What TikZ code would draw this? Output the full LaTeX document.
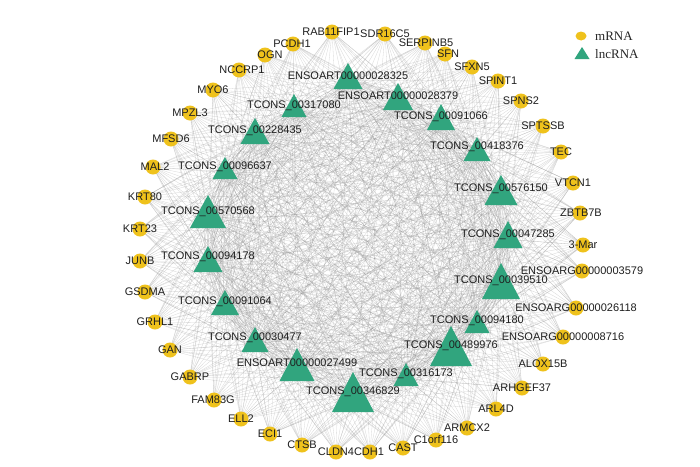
\documentclass[tikz,border=0pt]{standalone}
\usepackage{fontspec}
\setmainfont{Liberation Sans}
\newfontfamily\legfont{Liberation Serif}
\usetikzlibrary{shapes.geometric}
\definecolor{mrnacol}{HTML}{EFC21C}
\definecolor{lnccol}{HTML}{31A57E}
\definecolor{edgecol}{HTML}{8C8C8C}
\pgfdeclarelayer{bg}
\pgfsetlayers{bg,main}
\tikzset{
  mrna/.style={circle, fill=mrnacol, inner sep=0pt, outer sep=0pt, minimum size=15pt},
  lnc/.style={isosceles triangle, isosceles triangle stretches, shape border rotate=90,
    fill=lnccol, inner sep=0pt, outer sep=0pt, anchor=apex},
  lab/.style={font=\fontsize{11}{12}\selectfont, text=black!88, inner sep=0pt},
  link/.style={draw=edgecol, line width=0.3pt, opacity=0.35},
  legtext/.style={font=\legfont\fontsize{13}{14}\selectfont, text=black!85, anchor=west, inner sep=0pt},
}
\begin{document}
\begin{tikzpicture}[x=1pt,y=-1pt]
\useasboundingbox (0,0) rectangle (700,466);
% mRNA nodes
\foreach \n/\x/\y/\lx/\t in {
  m1/332/32/331/RAB11FIP1, m2/385/34/385/SDR16C5, m3/425/43/426/SERPINB5,
  m4/445/54/448/SFN, m5/472/67/472/SFXN5, m6/498/81/498/SPINT1,
  m7/521/101/521/SPNS2, m8/543/126/543/SPTSSB, m9/561/152/561/TEC,
  m10/573/183/573/VTCN1, m11/580/213/581/ZBTB7B, m12/583/245/583/3-Mar,
  m13/582/271/582/ENSOARG00000003579, m14/576/308/576/ENSOARG00000026118,
  m15/563/337/563/ENSOARG00000008716, m16/543/364/543/ALOX15B,
  m17/522/388/522/ARHGEF37, m18/496/409/496/ARL4D, m19/467/428/467/ARMCX2,
  m20/436/440/436/C1orf116, m21/403/448/403/CAST, m22/370/452/369/CDH1,
  m23/336/452/336/CLDN4, m24/302/445/302/CTSB, m25/270/434/270/ECI1,
  m26/241/419/241/ELL2, m27/214/400/213/FAM83G, m28/190/377/190/GABRP,
  m29/170/350/170/GAN, m30/155/322/155/GRHL1, m31/145/292/145/GSDMA,
  m32/140/261/140/JUNB, m33/140/229/140/KRT23, m34/145/197/145/KRT80,
  m35/153/167/155/MAL2, m36/171/139/171/MFSD6, m37/190/113/190/MPZL3,
  m38/213/90/213/MYO6, m39/239/70/242/NCCRP1, m40/265/55/270/OGN,
  m41/293/44/292/PCDH1}
{
  \node[mrna] (\n) at (\x,\y) {};
  \node[lab] (\n-l) at (\lx,\y) {\t};
}
% lncRNA nodes
\foreach \n/\x/\a/\b/\w/\ly/\t in {
  t1/348/63/89/29/76/ENSOART00000028325,
  t2/398/83/110/30/96/ENSOART00000028379,
  t3/441/104/130/28/117/TCONS\_00091066,
  t4/477/137/161/27/147/TCONS\_00418376,
  t5/501/175/205/33/189/TCONS\_00576150,
  t6/508/221/248/29/235/TCONS\_00047285,
  t7/501/263/299/38/281/TCONS\_00039510,
  t8/477/310/333/25/321/TCONS\_00094180,
  t9/451/326/366/42/346/TCONS\_00489976,
  t10/406/363/386/25/374/TCONS\_00316173,
  t11/353/372/412/42/392/TCONS\_00346829,
  t12/297/348/381/35/363/ENSOART00000027499,
  t13/255/327/352/27/338/TCONS\_00030477,
  t14/225/290/315/28/302/TCONS\_00091064,
  t15/208/246/272/29/257/TCONS\_00094178,
  t16/208/195/228/36/212/TCONS\_00570568,
  t17/225/157/179/25/167/TCONS\_00096637,
  t18/255/118/144/29/131/TCONS\_00228435,
  t19/294/94/117/25/106/TCONS\_00317080}
{
  \pgfmathsetmacro\h{\b-\a}
  \node[lnc, minimum width=\w pt, minimum height=\h pt] (\n) at (\x,\a) {};
  \node[lab] (\n-l) at (\x,\ly) {\t};
}
% legend
\node[ellipse, fill=mrnacol, inner sep=0pt, minimum width=11pt, minimum height=9pt] (legm) at (581,36) {};
\node[lnc, minimum width=15pt, minimum height=12pt] (legl) at (582,47) {};
\node[legtext] (legmt) at (595,36) {mRNA};
\node[legtext] (legltt) at (595,54) {lncRNA};
% edges
\begin{pgfonlayer}{bg}
  \fill[white] (0,0) rectangle (700,466);
  \foreach \i in {1,...,19} {
    \foreach \j in {1,...,41} {
      \draw[link] (t\i.center) -- (m\j.center);
    }
  }
  \foreach \i in {1,...,18} {
    \pgfmathtruncatemacro\k{\i+1}
    \foreach \j in {\k,...,19} {
      \draw[link] (t\i.center) to[bend left=15] (t\j.center);
    }
  }
\end{pgfonlayer}
\end{tikzpicture}
\end{document}
